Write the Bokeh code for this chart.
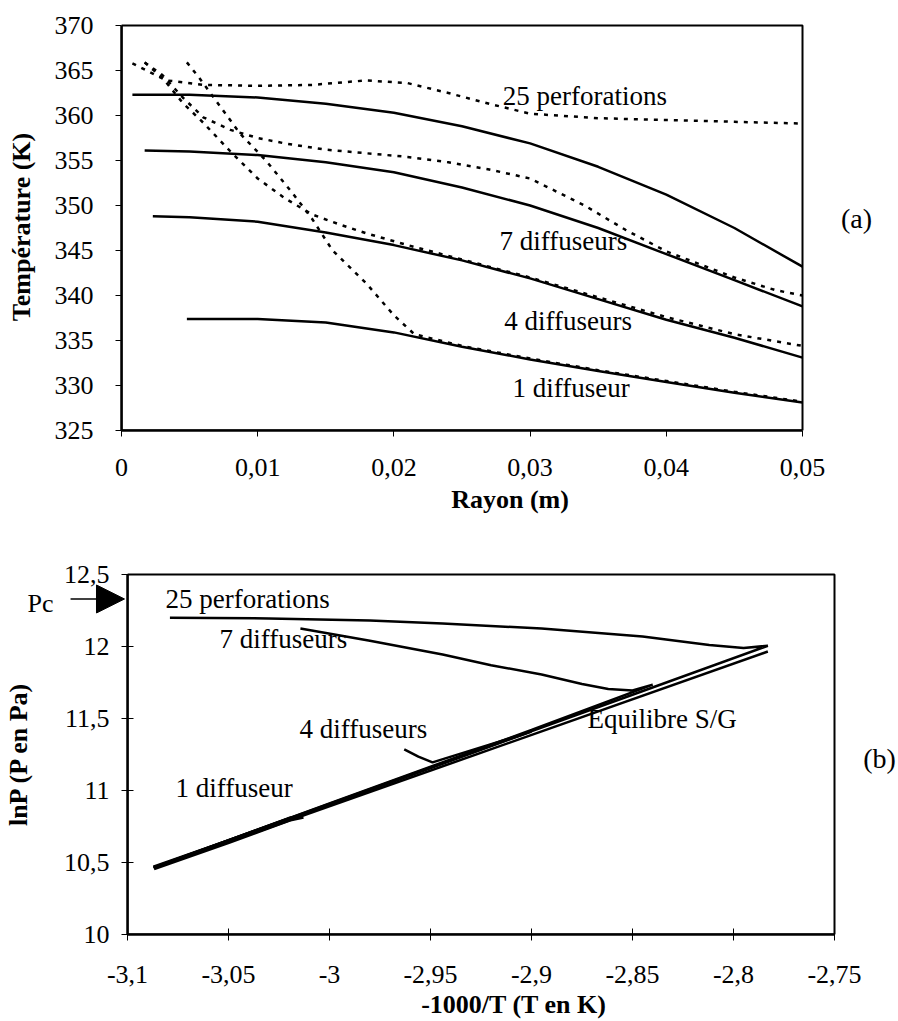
from bokeh.plotting import figure
from bokeh.models import Range1d, FixedTicker, Label, Arrow, NormalHead, BoxAnnotation
from bokeh.layouts import column, row
from bokeh.embed import file_html
from bokeh.resources import INLINE

FONT = "Liberation Serif"

# ---------------- Panel (a): Temperature vs radius ----------------
a_xticks = [0, 0.01, 0.02, 0.03, 0.04, 0.05]
a_xlabels = ["0", "0,01", "0,02", "0,03", "0,04", "0,05"]
a_yticks = [325, 330, 335, 340, 345, 350, 355, 360, 365, 370]
a_ylabels = ["325", "330", "335", "340", "345", "350", "355", "360", "365", "370"]

# solid curves
r25s = [0.0008, 0.005, 0.01, 0.015, 0.02, 0.025, 0.03, 0.035, 0.04, 0.045, 0.05]
T25s = [362.3, 362.3, 362.0, 361.3, 360.3, 358.8, 356.9, 354.3, 351.2, 347.5, 343.2]
r7s = [0.0017, 0.005, 0.01, 0.015, 0.02, 0.025, 0.03, 0.035, 0.04, 0.045, 0.05]
T7s = [356.1, 356.0, 355.6, 354.8, 353.7, 352.0, 350.0, 347.5, 344.6, 341.7, 338.8]
r4s = [0.0023, 0.005, 0.01, 0.015, 0.02, 0.025, 0.03, 0.035, 0.04, 0.045, 0.05]
T4s = [348.8, 348.7, 348.2, 347.0, 345.6, 343.9, 341.9, 339.6, 337.3, 335.3, 333.1]
r1s = [0.0048, 0.01, 0.015, 0.02, 0.025, 0.03, 0.035, 0.04, 0.045, 0.05]
T1s = [337.4, 337.4, 337.0, 335.9, 334.3, 332.9, 331.6, 330.4, 329.2, 328.1]

# dotted curves
r25d = [0.0008, 0.0033, 0.006, 0.01, 0.014, 0.018, 0.021, 0.024, 0.027, 0.03, 0.035, 0.04, 0.045, 0.05]
T25d = [365.8, 363.9, 363.4, 363.3, 363.4, 363.9, 363.6, 362.5, 361.3, 360.2, 359.7, 359.5, 359.3, 359.1]
r7d = [0.0017, 0.003, 0.0045, 0.006, 0.008, 0.01, 0.012, 0.015, 0.018, 0.021, 0.024, 0.027, 0.03, 0.034, 0.037, 0.04, 0.045, 0.048, 0.05]
T7d = [365.9, 364.5, 362.0, 359.8, 358.4, 357.5, 356.9, 356.2, 355.8, 355.4, 354.8, 354.0, 353.0, 350.0, 347.3, 344.9, 342.0, 340.6, 340.0]
r4d = [0.0017, 0.003, 0.0045, 0.006, 0.008, 0.01, 0.012, 0.014, 0.016, 0.018, 0.021, 0.025, 0.03, 0.035, 0.04, 0.045, 0.05]
T4d = [365.9, 364.2, 361.4, 359.2, 356.0, 353.0, 350.8, 349.0, 347.9, 346.9, 345.6, 344.0, 342.0, 339.8, 337.6, 335.7, 334.4]
r1d = [0.0048, 0.0057, 0.0072, 0.0087, 0.0106, 0.0126, 0.014, 0.0155, 0.018, 0.020, 0.0215, 0.025, 0.03, 0.035, 0.04, 0.045, 0.05]
T1d = [365.9, 364.2, 361.1, 358.0, 355.0, 351.3, 348.5, 345.0, 341.3, 337.8, 335.7, 334.4, 333.0, 331.7, 330.5, 329.3, 328.2]

a_label_text = ["25 perforations", "7 diffuseurs", "4 diffuseurs", "1 diffuseur"]
a_label_x = [0.0280, 0.02775, 0.0281, 0.0287]
a_label_y = [362.2, 346.1, 337.2, 329.7]

# ---------------- Panel (b): lnP vs -1000/T ----------------
b_xticks = [-3.1, -3.05, -3.0, -2.95, -2.9, -2.85, -2.8, -2.75]
b_xlabels = ["-3,1", "-3,05", "-3", "-2,95", "-2,9", "-2,85", "-2,8", "-2,75"]
b_yticks = [10, 10.5, 11, 11.5, 12, 12.5]
b_ylabels = ["10", "10,5", "11", "11,5", "12", "12,5"]

eq_x = [-3.087, -2.783]
eq_y = [10.46, 11.965]
p25_x = [-3.079, -3.03, -2.98, -2.944, -2.895, -2.845, -2.812, -2.795, -2.783, -2.85, -2.95, -3.05, -3.087]
p25_y = [12.20, 12.195, 12.18, 12.16, 12.125, 12.07, 12.01, 11.99, 12.005, 11.665, 11.16, 10.655, 10.465]
p7_x = [-3.0144, -2.98, -2.944, -2.92, -2.895, -2.875, -2.862, -2.85, -2.84, -2.9, -3.0, -3.087]
p7_y = [12.125, 12.04, 11.944, 11.87, 11.806, 11.74, 11.705, 11.695, 11.735, 11.42, 10.91, 10.465]
p4_x = [-2.963, -2.956, -2.949, -2.90, -3.0, -3.087]
p4_y = [11.285, 11.235, 11.195, 11.41, 10.90, 10.462]
p1_x = [-3.087, -3.05, -3.02, -3.013]
p1_y = [10.462, 10.645, 10.80, 10.82]

b_label_text = ["25 perforations", "7 diffuseurs", "4 diffuseurs", "1 diffuseur", "Equilibre S/G"]
b_label_x = [-3.0812, -3.0545, -3.0149, -3.0762, -2.8723]
b_label_y = [12.333, 12.049, 11.424, 11.014, 11.50]

pc_x = [-3.1272, -3.1005]
pc_y = 12.33


def style(p, xt, xl, yt, yl, xtitle, ytitle, tick_in, xstand, ystand, xtstand, ytstand):
    p.xgrid.visible = False
    p.ygrid.visible = False
    p.outline_line_color = None
    p.background_fill_color = "white"
    p.border_fill_color = "white"
    for ax, ticks, labels in ((p.xaxis[0], xt, xl), (p.yaxis[0], yt, yl)):
        ax.ticker = FixedTicker(ticks=ticks)
        ax.major_label_overrides = dict(zip(ticks, labels))
        ax.bounds = (ticks[0], ticks[-1])
        ax.minor_tick_line_color = None
        ax.major_tick_in = tick_in
        ax.major_tick_out = 6
        ax.major_tick_line_width = 1
        ax.axis_line_width = 2.5
        ax.axis_line_color = "black"
        ax.major_label_text_font = FONT
        ax.major_label_text_font_size = "26px"
        ax.major_label_text_color = "black"
        ax.axis_label_text_font = FONT
        ax.axis_label_text_font_size = "26px"
        ax.axis_label_text_font_style = "bold"
        ax.axis_label_text_color = "black"
    p.xaxis[0].axis_label = xtitle
    p.yaxis[0].axis_label = ytitle
    p.xaxis[0].major_label_standoff = xstand
    p.yaxis[0].major_label_standoff = ystand
    p.xaxis[0].axis_label_standoff = xtstand
    p.yaxis[0].axis_label_standoff = ytstand
    p.add_layout(BoxAnnotation(left=xt[0], right=xt[-1], bottom=yt[0], top=yt[-1],
                               fill_color=None, fill_alpha=0, line_color="black",
                               line_alpha=1, line_width=2))


# panel (a): frame extended to the right so that "(a)" can be drawn
pa = figure(frame_width=777, frame_height=407,
            x_range=Range1d(0, 0.057048), y_range=Range1d(325, 370.222),
            min_border_left=121, min_border_right=0, min_border_top=23, min_border_bottom=85,
            output_backend="svg", toolbar_location=None)
style(pa, a_xticks, a_xlabels, a_yticks, a_ylabels, "Rayon (m)", "Température (K)", 0, 22, 22, 6, 16)

for xs, ys in ((r25s, T25s), (r7s, T7s), (r4s, T4s), (r1s, T1s)):
    pa.line(xs, ys, line_color="black", line_width=2.5)
for xs, ys in ((r25d, T25d), (r7d, T7d), (r4d, T4d), (r1d, T1d)):
    pa.line(xs, ys, line_color="black", line_width=2.5, line_dash="4 6")
for t, x, y in zip(a_label_text, a_label_x, a_label_y):
    pa.add_layout(Label(x=x, y=y, text=t, text_font=FONT, text_font_size="27px",
                        text_align="left", text_baseline="middle", text_color="black"))
pa.add_layout(Label(x=0.05397, y=348.6, text="(a)", text_font=FONT, text_font_size="28px",
                    text_align="center", text_baseline="middle", text_color="black"))

# panel (b): frame extended to the right for "(b)"
b_yrange = (10, 12.51389)
pb = figure(frame_width=773, frame_height=362,
            x_range=Range1d(-3.1, -2.717327), y_range=Range1d(*b_yrange),
            min_border_left=125, min_border_right=0, min_border_top=56, min_border_bottom=88,
            output_backend="svg", toolbar_location=None)
style(pb, b_xticks, b_xlabels, b_yticks, b_ylabels, "-1000/T (T en K)", "lnP (P en Pa)", 6, 25, 12, 4, 28)
pb.border_fill_alpha = 0

pb.line(eq_x, eq_y, line_color="black", line_width=2.5)
pb.line(p25_x, p25_y, line_color="black", line_width=2.5)
pb.line(p7_x, p7_y, line_color="black", line_width=2.5)
pb.line(p4_x, p4_y, line_color="black", line_width=2.5)
pb.line(p1_x, p1_y, line_color="black", line_width=5)
for t, x, y in zip(b_label_text, b_label_x, b_label_y):
    pb.add_layout(Label(x=x, y=y, text=t, text_font=FONT, text_font_size="27px",
                        text_align="left", text_baseline="middle", text_color="black"))
pb.add_layout(Label(x=-2.7277, y=11.222, text="(b)", text_font=FONT, text_font_size="28px",
                    text_align="center", text_baseline="middle", text_color="black"))

# underlay figure with the same vertical layout/scale as panel (b), holding the "Pc" marker
pc = figure(frame_width=125, frame_height=362,
            x_range=Range1d(-3.1 - 125 / 2020, -3.1), y_range=Range1d(*b_yrange),
            min_border_left=0, min_border_right=0, min_border_top=56, min_border_bottom=88,
            x_axis_location=None, y_axis_location=None,
            output_backend="svg", toolbar_location=None)
pc.xgrid.visible = False
pc.ygrid.visible = False
pc.outline_line_color = None
pc.background_fill_color = "white"
pc.border_fill_color = "white"
pc.add_layout(Label(x=-3.1485, y=12.299, text="Pc", text_font=FONT, text_font_size="26px",
                    text_align="left", text_baseline="middle", text_color="black"))
pc.add_layout(Arrow(end=NormalHead(size=28, fill_color="black", line_color="black"),
                    x_start=pc_x[0], y_start=pc_y, x_end=pc_x[1], y_end=pc_y,
                    line_color="black", line_width=1.5))

pc.align = "start"
pb.align = "start"
pb.margin = (0, 0, 0, -125)
bottom_row = row(pc, pb, align="start")
layout = column(pa, bottom_row)
open("out.html", "w").write(file_html(layout, INLINE))
